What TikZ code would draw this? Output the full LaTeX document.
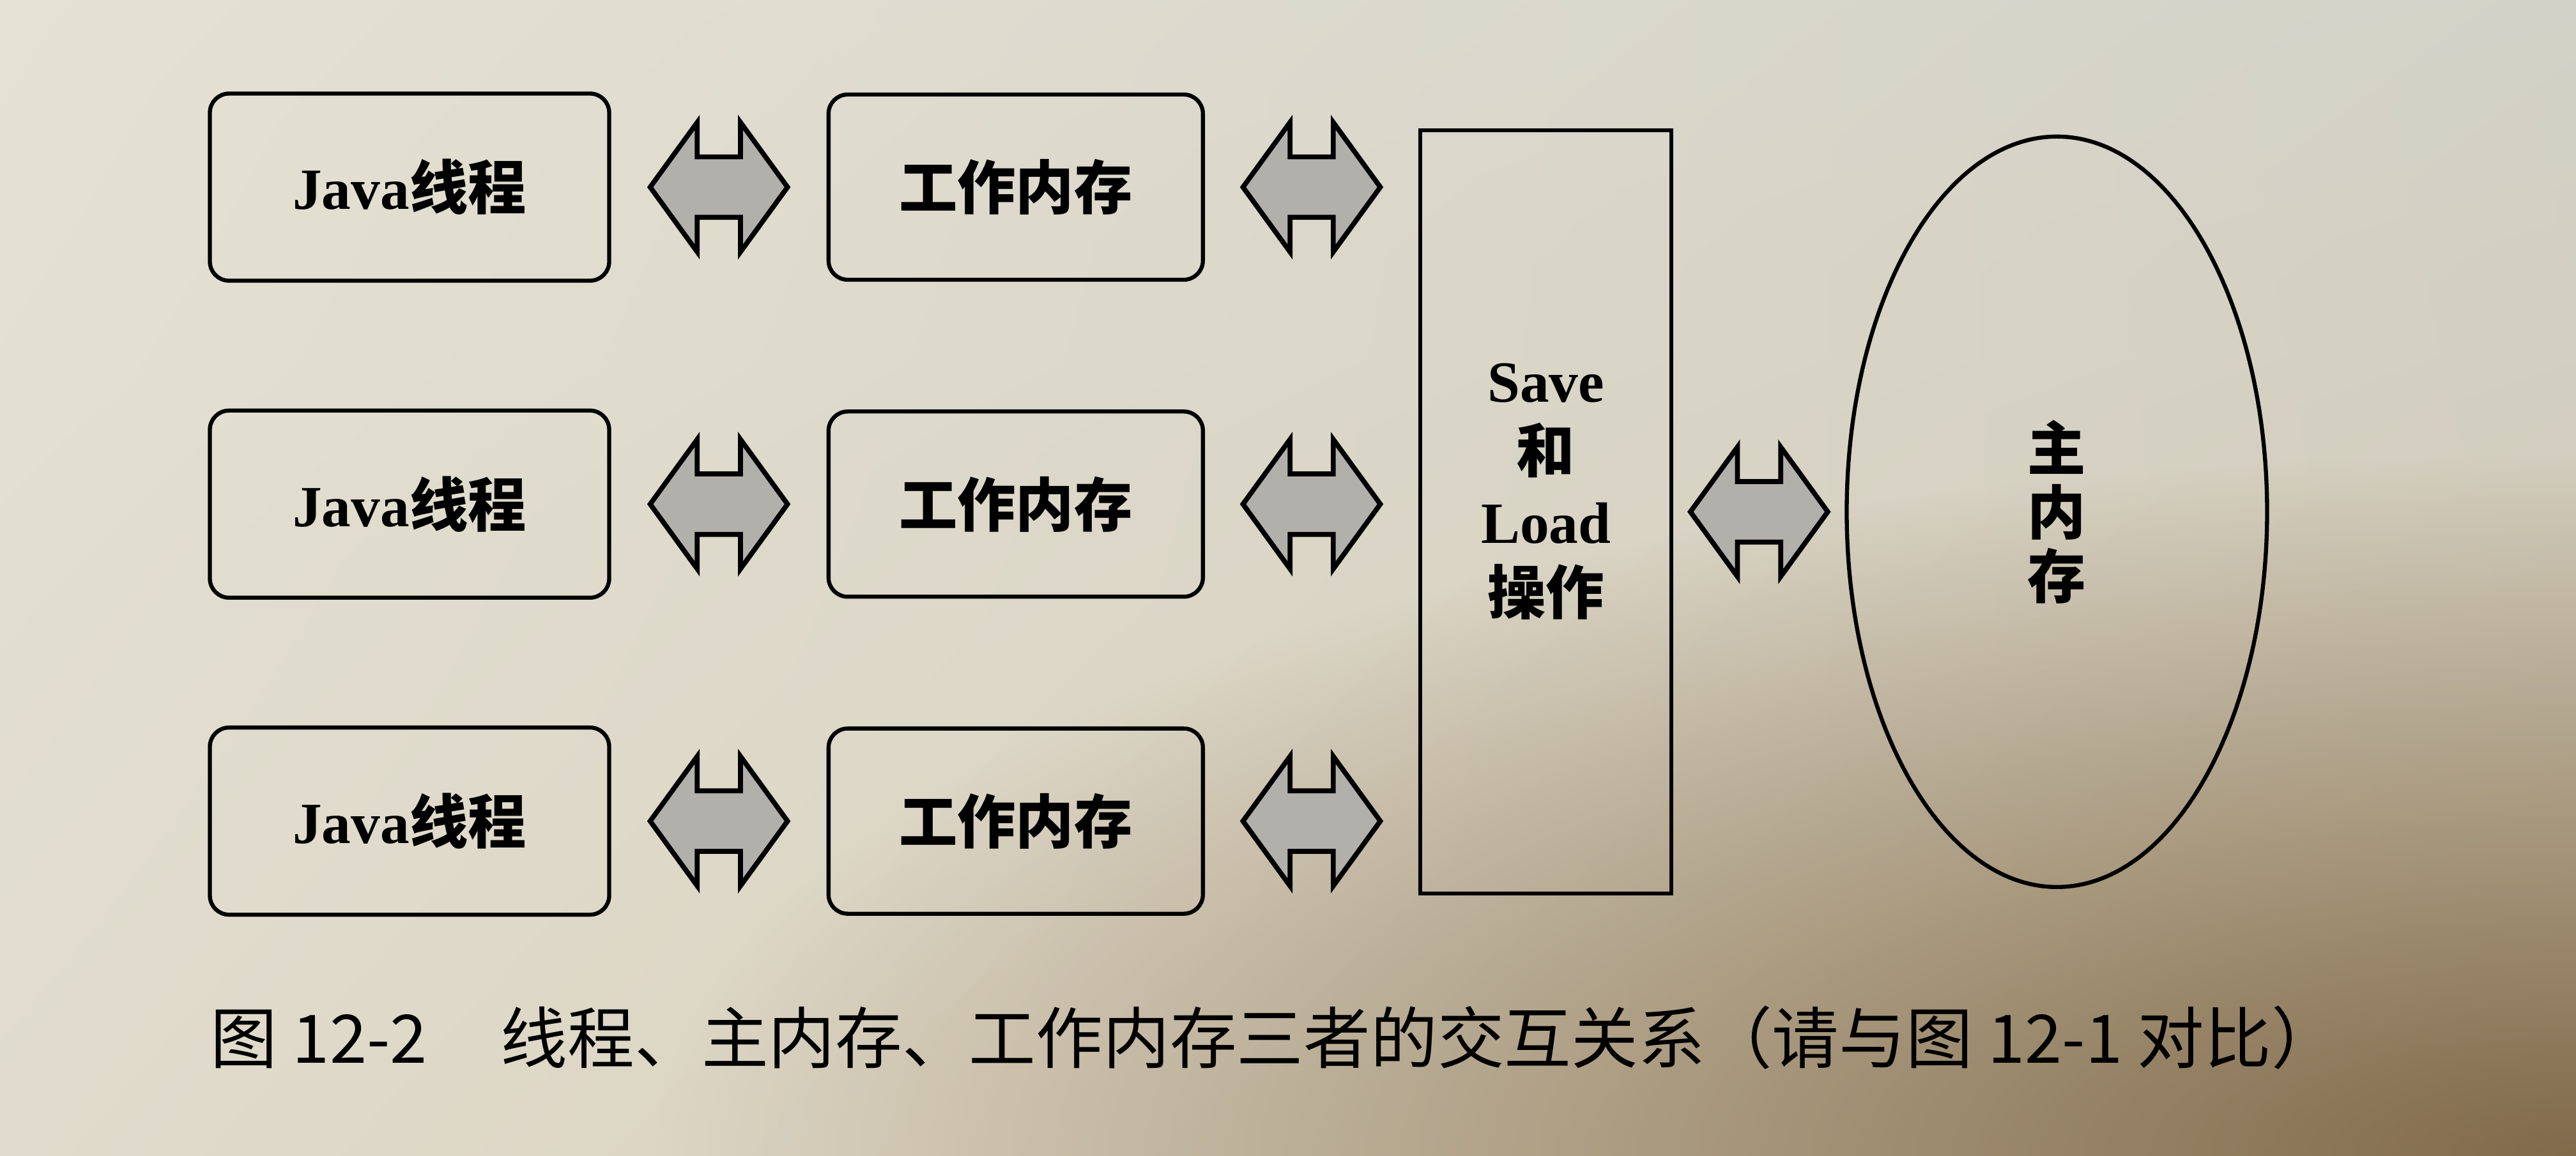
\documentclass[tikz,border=0pt]{standalone}
\usepackage{fontspec}
\setmainfont{Liberation Serif}
\newfontfamily\cjk{Noto Sans CJK SC}
\usetikzlibrary{positioning,calc,shadings,fadings}
\usetikzlibrary{shapes.arrows,shapes.geometric}

\definecolor{paperul}{RGB}{229,226,212}
\definecolor{paperur}{RGB}{210,210,200}
\definecolor{paperll}{RGB}{224,219,204}
\definecolor{paperlr}{RGB}{212,200,176}
\definecolor{paperdark}{RGB}{128,106,74}
\definecolor{arrowgray}{RGB}{178,176,170}

\tikzfading[name=cornerfade,inner color=transparent!0,outer color=transparent!100]

\newcommand{\zh}[1]{{\cjk #1}}

\tikzset{
  box/.style={draw,line width=1.8pt,rounded corners=0.3cm,minimum width=6.25cm,minimum height=2.93cm,
    font=\fontsize{26}{31}\selectfont\bfseries},
  mem/.style={box,minimum width=5.86cm,minimum height=2.90cm},
  dbl/.style={double arrow,draw,line width=2.2pt,fill=arrowgray,
    inner xsep=0pt,inner ysep=0.435cm,minimum width=0pt,
    minimum height=2.15cm,double arrow head extend=0.54cm,double arrow tip angle=108}
}

\begin{document}
\begin{tikzpicture}[node distance=1cm]

% paper of the photo
\shade[upper left=paperul,upper right=paperur,lower left=paperll,lower right=paperlr]
  (0,0) rectangle (40.32,-18.10);
\begin{scope}
\clip (0,0) rectangle (40.32,-18.10);
\fill[paperdark,path fading=cornerfade] (40.32,-18.10) ellipse (30cm and 11cm);
\end{scope}
\useasboundingbox (0,0) rectangle (40.32,-18.10);

\node(t1)[box] at (6.41,-2.93){Java\zh{线程}};

\node(t2)[box,below=1.97cm of t1]{Java\zh{线程}};

\node(t3)[box,below=1.97cm of t2]{Java\zh{线程}};

\node(w1)[mem,right=3.37cm of t1]{\zh{工作内存}};

\node(w2)[mem,right=3.37cm of t2]{\zh{工作内存}};

\node(w3)[mem,right=3.37cm of t3]{\zh{工作内存}};

\node(sl)[draw,line width=1.8pt,minimum width=3.93cm,minimum height=11.95cm,
  right=3.34cm of w2,yshift=-0.12cm]{};
\node(sltext)[align=center,font=\fontsize{26}{31.5}\selectfont\bfseries]
  at ([yshift=0.32cm]sl.center){Save\\\zh{和}\\Load\\\zh{操作}};

\node(mm)[ellipse,draw,line width=1.8pt,minimum width=6.58cm,minimum height=11.75cm,align=center,
  font=\fontsize{26}{28.5}\selectfont\bfseries\cjk,right=2.68cm of sl]{主\\内\\存};

\node(a1)[dbl] at ($(t1.east)!0.5!(w1.west)$){};
\node(a2)[dbl] at ($(t2.east)!0.5!(w2.west)$){};
\node(a3)[dbl] at ($(t3.east)!0.5!(w3.west)$){};

\node(b1)[dbl] at ($(w1.east)!0.5!(w1.east -| sl.west)$){};
\node(b2)[dbl] at ($(w2.east)!0.5!(w2.east -| sl.west)$){};
\node(b3)[dbl] at ($(w3.east)!0.5!(w3.east -| sl.west)$){};

\node(c0)[dbl] at ($(sl.east)!0.5!(sl.east -| mm.west)$){};

\node(cap)[anchor=west,inner sep=0pt,font=\fontsize{29.8}{34}\selectfont\cjk] at (3.29,-16.25)
  {图 12-2\hspace{1.1em}线程、主内存、工作内存三者的交互关系（请与图 12-1 对比）};

\end{tikzpicture}
\end{document}
